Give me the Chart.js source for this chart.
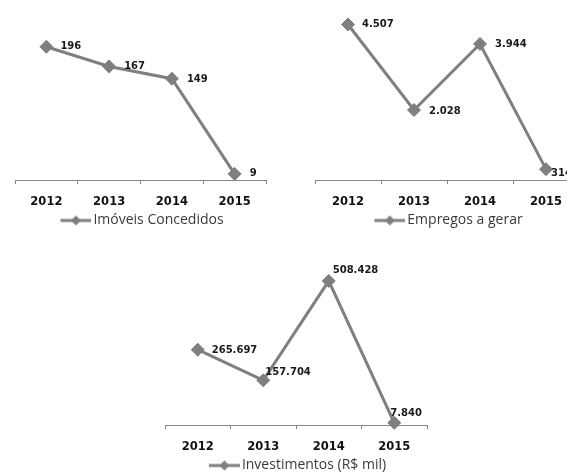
<!DOCTYPE html>
<html>
<head>
<meta charset="utf-8">
<script src="https://cdn.jsdelivr.net/npm/chart.js@4"></script>
<style>
  html, body { margin: 0; padding: 0; background: #ffffff; }
  body { width: 567px; height: 474px; overflow: hidden; position: relative; }
  canvas { position: absolute; }
  #c1 { left: 0px; top: 0px; }
  #c2 { left: 300px; top: 0px; }
  #c3 { left: 150px; top: 245px; }
</style>
</head>
<body>
<canvas id="c1" width="283" height="240"></canvas>
<canvas id="c2" width="300" height="240"></canvas>
<canvas id="c3" width="295" height="240"></canvas>
<script>
// ---- data ----
const years = ['2012', '2013', '2014', '2015'];
const imoveisConcedidos = [196, 167, 149, 9];
const empregosAGerar = [4507, 2028, 3944, 314];
const investimentos = [265697, 157704, 508428, 7840];
const seriesNames = ['Imóveis Concedidos', 'Empregos a gerar', 'Investimentos (R$ mil)'];
const axisMax = [250, 5000, 600000];

// ---- styles ----
const GRAY = '#7f7f7f';
const AXIS = '#868686';

function fmt(v) {
  return String(v).replace(/\B(?=(\d{3})+(?!\d))/g, '.');
}

function legendImage() {
  const c = document.createElement('canvas');
  c.width = 39; c.height = 12;
  const g = c.getContext('2d');
  g.strokeStyle = GRAY; g.lineWidth = 3;
  g.beginPath(); g.moveTo(8, 6); g.lineTo(39, 6); g.stroke();
  g.fillStyle = GRAY;
  g.beginPath(); g.moveTo(23.5, 1); g.lineTo(28.5, 6); g.lineTo(23.5, 11); g.lineTo(18.5, 6); g.closePath(); g.fill();
  return c;
}

const labelPlugin = {
  id: 'valueLabels',
  afterDatasetsDraw(chart, args, opts) {
    const ctx = chart.ctx;
    const meta = chart.getDatasetMeta(0);
    const data = chart.data.datasets[0].data;
    ctx.save();
    ctx.font = 'bold 10px "DejaVu Sans"';
    ctx.fillStyle = '#1a1a1a';
    ctx.textAlign = 'left';
    ctx.textBaseline = 'middle';
    meta.data.forEach((pt, i) => {
      const off = opts.offsets[i];
      ctx.fillText(fmt(data[i]), pt.x + off[0], pt.y + off[1]);
    });
    ctx.restore();
  }
};

function makeChart(id, values, name, max, padding, offsets) {
  return new Chart(document.getElementById(id), {
    type: 'line',
    data: {
      labels: years,
      datasets: [{
        label: name,
        data: values,
        borderColor: GRAY,
        backgroundColor: GRAY,
        borderWidth: 3,
        pointStyle: 'rectRot',
        pointRadius: 6.5,
        pointBackgroundColor: GRAY,
        pointBorderColor: GRAY,
        pointBorderWidth: 1,
        tension: 0,
        clip: false
      }]
    },
    options: {
      responsive: false,
      animation: false,
      events: [],
      layout: { padding: padding },
      scales: {
        x: {
          offset: true,
          grid: { display: true, offset: true, drawOnChartArea: false, drawTicks: true, tickLength: 4, color: AXIS },
          border: { display: true, color: AXIS, width: 1 },
          ticks: { padding: 11.5, color: '#111111', font: { family: 'DejaVu Sans', size: 11.5, weight: 'bold' }, maxRotation: 0 },
          afterFit(scale) { scale.height = 29.5; }
        },
        y: { display: false, min: 0, max: max }
      },
      plugins: {
        tooltip: { enabled: false },
        legend: {
          display: true,
          position: 'bottom',
          labels: {
            usePointStyle: true,
            pointStyle: legendImage(),
            pointStyleWidth: 29,
            padding: 4,
            color: '#3a3a3a',
            font: { family: 'Open Sans', size: 14 }
          }
        },
        valueLabels: { offsets: offsets }
      }
    },
    plugins: [labelPlugin]
  });
}

makeChart('c1', imoveisConcedidos, seriesNames[0], axisMax[0],
  { left: 15, right: 17, top: 10, bottom: 2.5 },
  [[14, 0], [15, 0], [15, 1], [15, 0]]);
makeChart('c2', empregosAGerar, seriesNames[1], axisMax[1],
  { left: 15, right: 21, top: 7, bottom: 2.5 },
  [[14, 0], [15, 1], [15, 0], [5, 4]]);
makeChart('c3', investimentos, seriesNames[2], axisMax[2],
  { left: 15, right: 18, top: 10, bottom: 2.5 },
  [[14, 1], [2, -8], [4, -11], [-4, -9]]);
</script>
</body>
</html>
